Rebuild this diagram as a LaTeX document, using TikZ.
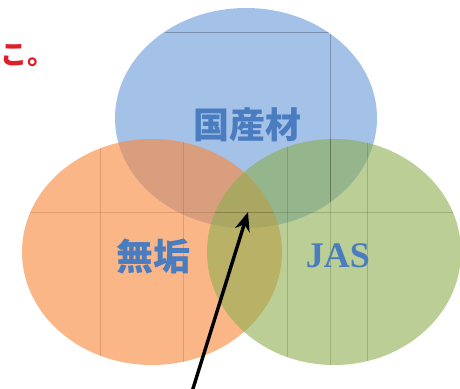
\documentclass[tikz,border=0pt]{standalone}
\usepackage{fontspec}
\setmainfont{Liberation Serif}
\newfontfamily\cjk{Noto Sans CJK JP}
\usetikzlibrary{arrows.meta}
\definecolor{cblue}{HTML}{5B8FD6}
\definecolor{corange}{HTML}{F98A3E}
\definecolor{cgreen}{HTML}{8CAE50}
\definecolor{ctext}{HTML}{4A7CC0}
\definecolor{cred}{HTML}{E01E28}
\tikzset{
  grid line/.style={line width=0.6pt, draw=black, draw opacity=0.25},
  label text/.style={text=ctext, inner sep=0pt},
}
\def\blueE{(246,118) ellipse [x radius=131, y radius=110]}
\def\orangeE{(152,252) ellipse [x radius=130, y radius=113]}
\def\greenE{(334,252) ellipse [x radius=127, y radius=113]}
\begin{document}
\begin{tikzpicture}[x=1pt,y=-1pt]
\useasboundingbox (0,0) rectangle (460,388);
\fill[white] (0,0) rectangle (460,388);
% ellipses
\fill[cblue, fill opacity=0.55] \blueE;
\fill[corange, fill opacity=0.62] \orangeE;
\fill[cgreen, fill opacity=0.6] \greenE;
% grid lines seen through the shapes
\begin{scope}
  \clip \blueE;
  \draw[grid line] (165,32) -- (330,32);
  \draw[grid line] (330,32) -- (330,240);
\end{scope}
\begin{scope}
  \clip \orangeE;
  \draw[grid line, draw=corange!60!black] (100,130) -- (100,388);
  \draw[grid line, draw=corange!60!black] (183,130) -- (183,388);
  \draw[grid line, draw=corange!60!black] (0,212) -- (460,212);
\end{scope}
\begin{scope}
  \clip \greenE;
  \draw[grid line, draw=cgreen!50!black] (287,130) -- (287,388);
  \draw[grid line, draw=cgreen!50!black] (330,130) -- (330,388);
  \draw[grid line, draw=cgreen!50!black] (367,130) -- (367,388);
  \draw[grid line, draw=cgreen!50!black] (0,212) -- (460,212);
\end{scope}
% labels
\node[label text, font=\cjk\bfseries\fontsize{36}{36}\selectfont] (kokusan) at (247,125) {国産材};
\node[label text, font=\cjk\bfseries\fontsize{37}{37}\selectfont] (muku) at (153,256) {無垢};
\node[label text, font=\bfseries\fontsize{36}{36}\selectfont] (jas) at (338,256) {JAS};
\node[text=cred, inner sep=0pt, anchor=west, font=\cjk\bfseries\fontsize{27}{27}\selectfont] (note) at (0,56) {こ。};
% arrow
\coordinate (tail) at (191,395);
\coordinate (tip) at (248,212);
\draw[line width=3.4pt, -{Stealth[length=19pt, width=15pt]}] (tail) -- (tip);
\end{tikzpicture}
\end{document}
